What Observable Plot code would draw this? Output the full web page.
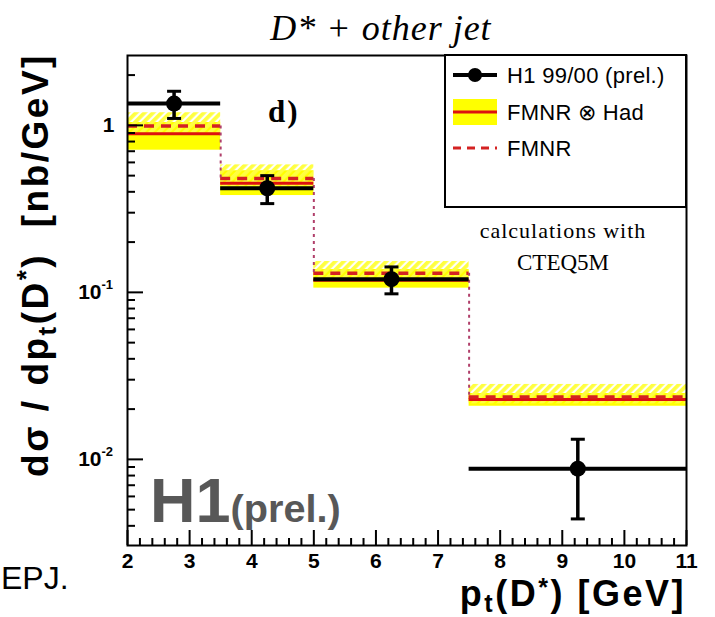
<!DOCTYPE html>
<html>
<head>
<meta charset="utf-8">
<script src="https://cdn.jsdelivr.net/npm/d3@7"></script>
<script src="https://cdn.jsdelivr.net/npm/@observablehq/plot@0.6"></script>
<style>
  html, body { margin: 0; padding: 0; background: #fff; }
  #chart { width: 715px; height: 617px; }
  #chart text { white-space: pre; }
</style>
</head>
<body>
<div id="chart"></div>
<script>
// pt(D*) bins [GeV]
const binLo = [2, 3.5, 5, 7.5];
const binHi = [3.5, 5, 7.5, 11];
const binCenter = [2.75, 4.25, 6.25, 9.25];

// H1 99/00 (prel.) dsigma/dpt [nb/GeV] with total error
const dataVal = [1.35, 0.42, 0.12, 0.0088];
const dataErr = [0.25, 0.08, 0.022, 0.0044];

// FMNR ⊗ Had: central value and uncertainty band
const hadVal = [0.89, 0.45, 0.118, 0.0228];
const hadLo  = [0.71, 0.38, 0.106, 0.0208];
const hadHi  = [1.04, 0.535, 0.137, 0.0248];

// FMNR (parton level): central value and uncertainty band
const fmnrVal = [0.99, 0.48, 0.13, 0.0236];
const fmnrLo  = [0.90, 0.43, 0.118, 0.0215];
const fmnrHi  = [1.19, 0.58, 0.153, 0.0281];

// axis ticks and labels
const xMajor = [2, 3, 4, 5, 6, 7, 8, 9, 10, 11];
const xMajorLabels = ["2", "3", "4", "5", "6", "7", "8", "9", "10", "11"];
const yMajor = [1, 0.1, 0.01];
const yMajorBase = ["1", "10", "10"];
const yMajorExp = ["", "-1", "-2"];

const W = 715, H = 617;
const mL = 127, mR = 29, mT = 55, mB = 72;
const plotW = W - mL - mR, plotH = H - mT - mB;

const bins = binLo.map((lo, i) => ({
  lo, hi: binHi[i], c: binCenter[i],
  val: dataVal[i], err: dataErr[i],
  had: hadVal[i], hadLo: hadLo[i], hadHi: hadHi[i],
  fmnr: fmnrVal[i], fmnrLo: fmnrLo[i], fmnrHi: fmnrHi[i]
}));
// FMNR step risers between adjacent bins
const risers = bins.slice(0, -1).map((b, i) => ({x: b.hi, y1: b.fmnr, y2: bins[i + 1].fmnr}));

const xMinor = d3.range(2, 11.001, 0.2).filter(v => Math.abs(v - Math.round(v)) > 1e-6);
const yMinor = [];
for (const dec of [0.001, 0.01, 0.1, 1]) for (let k = 2; k <= 9; k++) {
  const v = k * dec;
  if (v > 0.00305 && v < 2.62) yMinor.push(v);
}
const yTicks = yMajor.map((v, i) => ({v, base: yMajorBase[i], exp: yMajorExp[i]}));

// short horizontal bar used as error-bar end cap
const capSymbol = { draw(ctx) { ctx.moveTo(-7, 0); ctx.lineTo(7, 0); } };

const RED = "#dd1111";
const DASHRED = "#d42222";
const YELLOW = "#ffff00";

const plot = Plot.plot({
  width: W, height: H,
  marginLeft: mL, marginRight: mR, marginTop: mT, marginBottom: mB,
  style: { background: "#fff", fontFamily: "'Liberation Sans', Arial, sans-serif", color: "#000" },
  x: { domain: [2, 11], axis: null },
  y: { type: "log", domain: [0.00305, 2.62], axis: null },
  marks: [
    // FMNR ⊗ Had uncertainty band
    Plot.rect(bins, { x1: "lo", x2: "hi", y1: "hadLo", y2: "hadHi", fill: YELLOW }),
    // FMNR uncertainty band (hatched)
    Plot.rect(bins, { x1: "lo", x2: "hi", y1: "fmnrLo", y2: "fmnrHi", fill: "url(#fmnr-hatch)" }),
    // FMNR ⊗ Had central value
    Plot.ruleY(bins, { x1: "lo", x2: "hi", y: "had", stroke: RED, strokeWidth: 3 }),
    // FMNR central value
    Plot.ruleY(bins, { x1: "lo", x2: "hi", y: "fmnr", stroke: DASHRED, strokeWidth: 3.5, strokeDasharray: "10,7" }),
    Plot.ruleX(risers, { x: "x", y1: "y1", y2: "y2", stroke: "#b03f6a", strokeWidth: 2, strokeDasharray: "3,4" }),
    // H1 data: bin width, error bars and points
    Plot.ruleY(bins, { x1: "lo", x2: "hi", y: "val", stroke: "#000", strokeWidth: 4 }),
    Plot.ruleX(bins, { x: "c", y1: d => d.val - d.err, y2: d => d.val + d.err, stroke: "#000", strokeWidth: 3.5 }),
    Plot.dot(bins, { x: "c", y: d => d.val - d.err, symbol: capSymbol, stroke: "#000", strokeWidth: 3, fill: "none" }),
    Plot.dot(bins, { x: "c", y: d => d.val + d.err, symbol: capSymbol, stroke: "#000", strokeWidth: 3, fill: "none" }),
    Plot.dot(bins, { x: "c", y: "val", r: 8, fill: "#000", stroke: "none" }),
    // inward ticks
    Plot.tickY(yMajor, { y: d => d, insetRight: plotW - 16, stroke: "#000", strokeWidth: 2 }),
    Plot.tickY(yMinor, { y: d => d, insetRight: plotW - 8, stroke: "#000", strokeWidth: 2 }),
    Plot.tickX(xMajor, { x: d => d, insetTop: plotH - 15, stroke: "#000", strokeWidth: 2 }),
    Plot.tickX(xMinor, { x: d => d, insetTop: plotH - 7, stroke: "#000", strokeWidth: 2 }),
    // tick labels
    Plot.text(xMajor, { x: d => d, text: (d, i) => xMajorLabels[i], frameAnchor: "bottom", lineAnchor: "top", dy: 8, fontSize: 21, fontWeight: "bold", fill: "#000" }),
    Plot.text(yTicks, { filter: d => d.exp === "", y: "v", text: "base", frameAnchor: "left", textAnchor: "end", lineAnchor: "middle", dx: -13, fontSize: 21, fontWeight: "bold", fill: "#000" }),
    Plot.text(yTicks, { filter: d => d.exp !== "", y: "v", text: "base", frameAnchor: "left", textAnchor: "end", lineAnchor: "middle", dx: -26, fontSize: 21, fontWeight: "bold", fill: "#000" }),
    Plot.text(yTicks, { filter: d => d.exp !== "", y: "v", text: "exp", frameAnchor: "left", textAnchor: "start", lineAnchor: "middle", dx: -26, dy: -8, fontSize: 13, fontWeight: "bold", fill: "#000" }),
    Plot.frame({ stroke: "#000", strokeWidth: 2 })
  ]
});

document.getElementById("chart").appendChild(plot);

const svg = d3.select(plot);

// hatch pattern for the FMNR band
const pat = svg.insert("defs", ":first-child")
  .append("pattern").attr("id", "fmnr-hatch")
  .attr("patternUnits", "userSpaceOnUse")
  .attr("width", 6).attr("height", 6)
  .attr("patternTransform", "rotate(45)");
pat.append("rect").attr("width", 3.8).attr("height", 6).attr("fill", "#ffff40");

// text with sub/superscript pieces: [text, baseline shift px, size factor]
function rich(sel, parts, size) {
  let prev = 0;
  for (const [txt, shift, scale] of parts) {
    sel.append("tspan").attr("dy", shift - prev).attr("font-size", size * scale).text(txt);
    prev = shift;
  }
  return sel;
}

const ann = svg.append("g").attr("text-anchor", "start");
const SANS = "'Liberation Sans', Arial, sans-serif";
const SERIF = "'Liberation Serif', 'Times New Roman', serif";

// title
ann.append("text").attr("x", 381).attr("y", 40).attr("text-anchor", "middle")
  .attr("font-family", SERIF).attr("font-style", "italic").attr("font-size", 36)
  .attr("letter-spacing", 1)
  .text("D* + other jet");

// panel tag
ann.append("text").attr("x", 268).attr("y", 122).attr("text-anchor", "start")
  .attr("font-family", SERIF).attr("font-weight", "bold").attr("font-size", 31)
  .attr("letter-spacing", 2)
  .text("d)");

// y-axis title
rich(ann.append("text")
  .attr("transform", "translate(48,265) rotate(-90)")
  .attr("text-anchor", "middle").attr("font-family", SANS).attr("font-weight", "bold")
  .attr("letter-spacing", 2.5),
  [["dσ / dp", 0, 1], ["t", 8, 0.7], ["(D", 0, 1], ["*", -13, 0.7], [")  [nb/GeV]", 0, 1]], 37);

// x-axis title
rich(ann.append("text").attr("x", 686).attr("y", 606)
  .attr("text-anchor", "end").attr("font-family", SANS).attr("font-weight", "bold")
  .attr("letter-spacing", 2.5),
  [["p", 0, 1], ["t", 6, 0.7], ["(D", 0, 1], ["*", -10, 0.7], [") [GeV]", 0, 1]], 36);

// experiment tag
rich(ann.append("text").attr("x", 150).attr("y", 522).attr("text-anchor", "start")
  .attr("font-family", SANS).attr("font-weight", "bold").attr("fill", "#585858"),
  [["H1", 0, 1], ["(prel.)", 0, 0.63]], 63);

// side note
ann.append("text").attr("x", 1).attr("y", 589).attr("text-anchor", "start")
  .attr("font-family", SANS).attr("font-size", 32).text("EPJ.");

// PDF note
ann.append("text").attr("x", 563).attr("y", 238).attr("text-anchor", "middle")
  .attr("font-family", SERIF).attr("font-size", 22).attr("letter-spacing", 1)
  .text("calculations with");
ann.append("text").attr("x", 563).attr("y", 270).attr("text-anchor", "middle")
  .attr("font-family", SERIF).attr("font-size", 23)
  .text("CTEQ5M");

// legend
const leg = svg.append("g").attr("text-anchor", "start");
leg.append("rect").attr("x", 445).attr("y", 55).attr("width", 241).attr("height", 152)
  .attr("fill", "#fff").attr("stroke", "#000").attr("stroke-width", 2);
leg.append("line").attr("x1", 453).attr("x2", 497).attr("y1", 75).attr("y2", 75)
  .attr("stroke", "#000").attr("stroke-width", 4);
leg.append("circle").attr("cx", 475).attr("cy", 75).attr("r", 7).attr("fill", "#000");
leg.append("rect").attr("x", 453).attr("y", 99).attr("width", 44).attr("height", 26).attr("fill", YELLOW);
leg.append("line").attr("x1", 453).attr("x2", 497).attr("y1", 112).attr("y2", 112)
  .attr("stroke", RED).attr("stroke-width", 3);
leg.append("line").attr("x1", 453).attr("x2", 497).attr("y1", 148).attr("y2", 148)
  .attr("stroke", DASHRED).attr("stroke-width", 3).attr("stroke-dasharray", "8,6");
const legLabels = ["H1 99/00 (prel.)", "FMNR \u2297 Had", "FMNR"];
const legY = [75, 112, 148];
legLabels.forEach((t, i) => {
  leg.append("text").attr("x", 507).attr("y", legY[i]).attr("dy", "0.35em")
    .attr("text-anchor", "start").attr("letter-spacing", 0.3)
    .attr("font-family", SANS).attr("font-size", 22).text(t);
});
</script>
</body>
</html>
